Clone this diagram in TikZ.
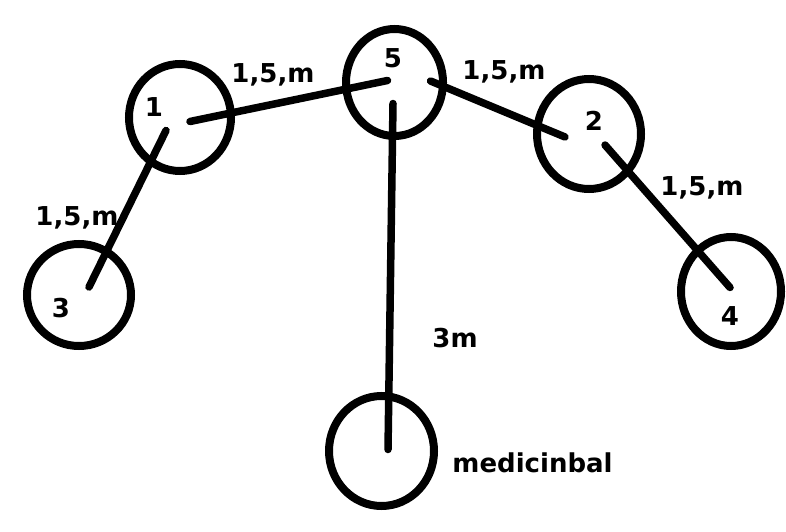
\documentclass[tikz,border=0pt]{standalone}
\usepackage{fontspec}
\setmainfont{DejaVu Sans}
\usetikzlibrary{shapes.geometric}
\begin{document}
\begin{tikzpicture}[x=1pt,y=-1pt,
  ring/.style={draw,ellipse,line width=8pt,inner sep=0pt},
  conn/.style={line width=7.5pt,line cap=round},
  lbl/.style={font=\fontsize{26}{26}\selectfont\bfseries,inner sep=0pt,anchor=base}]
\useasboundingbox[fill=white] (0,0) rectangle (786,532);
% circles
\node[ring,minimum width=102pt,minimum height=107pt] (c1) at (180,117.5) {};
\node[ring,minimum width=97pt,minimum height=107pt] (c5) at (394.5,82.5) {};
\node[ring,minimum width=104pt,minimum height=110pt] (c2) at (589,134) {};
\node[ring,minimum width=100pt,minimum height=109pt] (c4) at (731,291.5) {};
\node[ring,minimum width=104pt,minimum height=102pt] (c3) at (79,295) {};
\node[ring,minimum width=105pt,minimum height=110pt] (cm) at (381.5,451) {};
% connector end points
\coordinate (a1) at ([shift={(10,4)}]c1.center);
\coordinate (a5) at ([shift={(-7,-2)}]c5.center);
\coordinate (b5) at ([shift={(36,-1.5)}]c5.center);
\coordinate (b2) at ([shift={(-24,3)}]c2.center);
\coordinate (d2) at ([shift={(16,11)}]c2.center);
\coordinate (d4) at ([shift={(-1,-4)}]c4.center);
\coordinate (e1) at ([shift={(-14,13)}]c1.center);
\coordinate (e3) at ([shift={(10,-8)}]c3.center);
\coordinate (f5) at ([shift={(-1.5,21)}]c5.center);
\coordinate (fm) at ([shift={(6.5,-1.5)}]cm.center);
% connectors
\draw[conn] (a1) -- (a5);
\draw[conn] (b5) -- (b2);
\draw[conn] (d2) -- (d4);
\draw[conn] (e1) -- (e3);
\draw[conn] (f5) -- (fm);
% labels
\node[lbl] (t1) at (154,117) {1};
\node[lbl] (t5) at (393,68) {5};
\node[lbl] (t2) at (594,130) {2};
\node[lbl] (t4) at (730,325) {4};
\node[lbl] (t3) at (61,317) {3};
\node[lbl] (l15) at (273,83) {1,5,m};
\node[lbl] (l52) at (504,80) {1,5,m};
\node[lbl] (l24) at (702,195) {1,5,m};
\node[lbl] (l13) at (77,225) {1,5,m};
\node[lbl] (l5m) at (455,347) {3m};
\node[lbl] (lm) at (532.5,472) {medicinbal};
\end{tikzpicture}
\end{document}
